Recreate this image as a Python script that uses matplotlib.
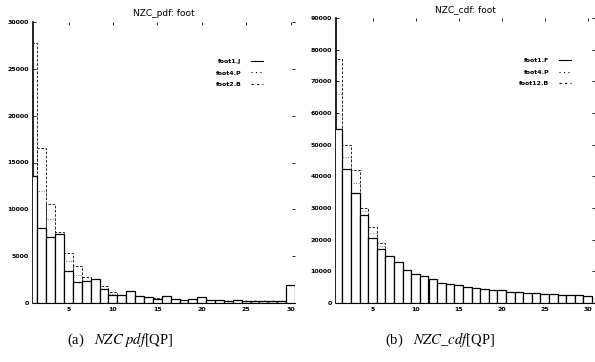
import numpy as np
import matplotlib
matplotlib.use("Agg")
import matplotlib.pyplot as plt
from matplotlib.lines import Line2D

# bins (QP offset) 1..30
bins = list(range(1, 31))

# NZC pdf, three sequences
pdf_foot1J = [13600, 8000, 7000, 7400, 3400, 2200, 2300, 2550, 1450, 900,
              820, 1300, 700, 600, 450, 800, 380, 360, 380, 600,
              300, 280, 250, 320, 240, 260, 250, 240, 260, 1950]
pdf_foot4P = [27800, 16500, 10600, 7600, 5300, 4000, 2800, 2600, 1800, 1200,
              900, 1000, 700, 550, 500, 650, 400, 350, 330, 420,
              280, 260, 240, 280, 230, 220, 210, 200, 210, 1500]
pdf_foot2B = [20000, 12000, 9000, 7000, 4500, 3000, 2400, 2200, 1500, 1000,
              800, 1100, 650, 500, 450, 700, 350, 330, 320, 500,
              260, 250, 230, 270, 220, 230, 220, 210, 230, 1800]

# NZC cdf, three sequences
cdf_foot1F = [55000, 42300, 34600, 27700, 20400, 17200, 14900, 12800, 10400, 9250,
              8400, 7660, 6400, 5850, 5530, 5100, 4800, 4500, 4250, 3950,
              3600, 3400, 3200, 3100, 3000, 2870, 2650, 2550, 2450, 2340]
cdf_foot4P = [77000, 50000, 42000, 30000, 24000, 19000, 14000, 10500, 8000, 6500,
              5200, 4500, 4000, 3500, 3200, 3000, 2800, 2600, 2500, 2400,
              2300, 2200, 2150, 2100, 2050, 2000, 1950, 1900, 1850, 1800]
cdf_foot12B = [66000, 46000, 38000, 29000, 22000, 18000, 14500, 11500, 9200, 8000,
               6800, 6000, 5200, 4700, 4400, 4000, 3800, 3500, 3300, 3100,
               2900, 2800, 2700, 2600, 2500, 2450, 2350, 2300, 2200, 2100]

plt.rcParams['font.family'] = ['DejaVu Sans']

fig = plt.figure(figsize=(5.95, 3.62), dpi=100)
ax1 = fig.add_axes([33/595, 59/362, 262/595, 281/362])
ax2 = fig.add_axes([336/595, 59/362, 259/595, 285/362])


def draw_panel(ax, solid, dashed, dotted, labels, title, ymax, ystep, xlim, leg_anchor):
    x = np.array(bins)
    ax.bar(x, dashed, width=1.0, fill=False, edgecolor='black', linestyle=(0, (3, 2)), linewidth=0.6, zorder=2)
    ax.bar(x, dotted, width=1.0, fill=False, edgecolor='#555555', linestyle=(0, (1, 2)), linewidth=0.6, zorder=2)
    ax.bar(x, solid, width=1.0, facecolor='white', edgecolor='black', linewidth=0.9, zorder=3)
    ax.set_xlim(*xlim)
    ax.set_ylim(0, ymax)
    ax.set_xticks([5, 10, 15, 20, 25, 30])
    ax.set_xticks(bins, minor=True)
    ax.set_yticks(np.arange(0, ymax + 1, ystep))
    ax.tick_params(axis='both', which='major', labelsize=4.5, length=2.5, width=0.6,
                   direction='in', right=True, top=True, pad=3)
    ax.tick_params(axis='x', which='minor', length=2, width=0.5, direction='in')
    for lab in ax.get_xticklabels() + ax.get_yticklabels():
        lab.set_fontweight('bold')
    ax.spines['top'].set_visible(False)
    ax.spines['right'].set_visible(False)
    ax.spines['left'].set_linewidth(1.2)
    ax.spines['bottom'].set_linewidth(0.8)
    ax.set_title(title, fontsize=6.5, pad=4)
    handles = [Line2D([], [], color='black', linewidth=0.8),
               Line2D([], [], color='black', linestyle=(0, (1, 3)), linewidth=0.8),
               Line2D([], [], color='black', linestyle=(0, (2, 3)), linewidth=0.8)]
    leg = ax.legend(handles, labels, loc='upper right', bbox_to_anchor=leg_anchor,
                    frameon=False, fontsize=4.5, markerfirst=False, alignment='left',
                    handlelength=2.0, handletextpad=1.5, labelspacing=1.0)
    for t in leg.get_texts():
        t.set_fontweight('bold')


draw_panel(ax1, pdf_foot1J, pdf_foot4P, pdf_foot2B,
           ['foot1.J', 'foot4.P', 'foot2.B'], 'NZC_pdf: foot', 30000, 5000, (1.0, 30.5),
           (0.9, 0.89))
draw_panel(ax2, cdf_foot1F, cdf_foot4P, cdf_foot12B,
           ['foot1.F', 'foot4.P', 'foot12.B'], 'NZC_cdf: foot', 90000, 10000, (0.75, 30.85),
           (0.93, 0.88))

cap = dict(fontsize=10.5, family='Liberation Serif', ha='center', va='center')
fig.text(120/595, 1 - 340/362, '(a)   $\\mathit{NZC\\ pdf}$[QP]', math_fontfamily='stix', **cap)
fig.text(440/595, 1 - 340/362, '(b)   $\\mathit{NZC\\_cdf}$[QP]', math_fontfamily='stix', **cap)

fig.savefig('out.png', dpi=100)
